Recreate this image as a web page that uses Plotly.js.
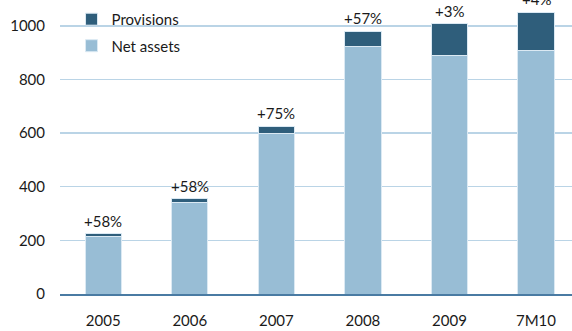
<!DOCTYPE html>
<html>
<head>
<meta charset="utf-8">
<script src="https://cdn.plot.ly/plotly-3.0.1.min.js"></script>
<style>
  html, body { margin: 0; padding: 0; background: #ffffff; }
  #chart { width: 572px; height: 331px; }
</style>
</head>
<body>
<div id="chart"></div>
<script>
// Periods on the category axis
const periods = ['2005', '2006', '2007', '2008', '2009', '7M10'];
// Net assets (bottom segment of each stack)
const netAssets = [214, 340, 597, 924, 889, 907];
// Provisions (top segment of each stack)
const provisions = [10, 16, 28, 56, 119, 143];
// Growth labels shown above each stack
const growthLabels = ['+58%', '+58%', '+75%', '+57%', '+3%', '+4%'];
// Y axis ticks
const yTicks = [0, 200, 400, 600, 800, 1000];

const font = 'Lato, "Open Sans", sans-serif';
const totals = periods.map((_, i) => netAssets[i] + provisions[i]);

const traces = [
  {
    type: 'bar',
    name: 'Net assets',
    x: periods,
    y: netAssets,
    marker: { color: '#98bdd5', line: { color: '#dbe9f3', width: 1 } },
    legendgroup: 'net',
    legendrank: 2,
    hoverinfo: 'x+y+name'
  },
  {
    type: 'bar',
    name: 'Provisions',
    x: periods,
    y: provisions,
    marker: { color: '#2f5e7b', line: { color: '#dbe9f3', width: 1 } },
    legendgroup: 'prov',
    legendrank: 1,
    hoverinfo: 'x+y+name'
  }
];

// Labels are positioned by category index so numeric-looking names
// such as '2005' are not read as linear coordinates.
const annotations = periods.map((p, i) => ({
  x: i,
  y: totals[i],
  xref: 'x',
  yref: 'y',
  text: growthLabels[i],
  showarrow: false,
  yanchor: 'bottom',
  yshift: 2,
  font: { family: font, size: 15, color: '#1a1a1a' }
}));

const layout = {
  width: 572,
  height: 331,
  margin: { l: 60, r: 0, t: 0, b: 37 },
  paper_bgcolor: '#ffffff',
  plot_bgcolor: '#ffffff',
  barmode: 'stack',
  bargap: 0.58,
  showlegend: true,
  legend: {
    x: 0.0225,
    y: 0.99,
    xanchor: 'left',
    yanchor: 'top',
    bgcolor: 'rgba(0,0,0,0)',
    traceorder: 'grouped',
    tracegroupgap: 4,
    itemwidth: 30,
    font: { family: font, size: 15, color: '#1a1a1a' }
  },
  xaxis: {
    type: 'category',
    range: [-0.5, 5.416],
    showgrid: false,
    showline: true,
    linecolor: '#4a7ba3',
    linewidth: 2,
    ticks: '',
    ticklabelstandoff: 12,
    tickfont: { family: font, size: 15, color: '#1a1a1a' },
    fixedrange: true
  },
  yaxis: {
    range: [0, 1096],
    tickvals: yTicks,
    ticktext: yTicks.map(String),
    showgrid: true,
    gridcolor: '#bad4e6',
    gridwidth: 1.5,
    zeroline: false,
    showline: false,
    ticks: '',
    ticklabelstandoff: 14,
    tickfont: { family: font, size: 15, color: '#1a1a1a' },
    fixedrange: true
  },
  annotations: annotations
};

Plotly.newPlot('chart', traces, layout, { displayModeBar: false, staticPlot: true });
</script>
</body>
</html>
